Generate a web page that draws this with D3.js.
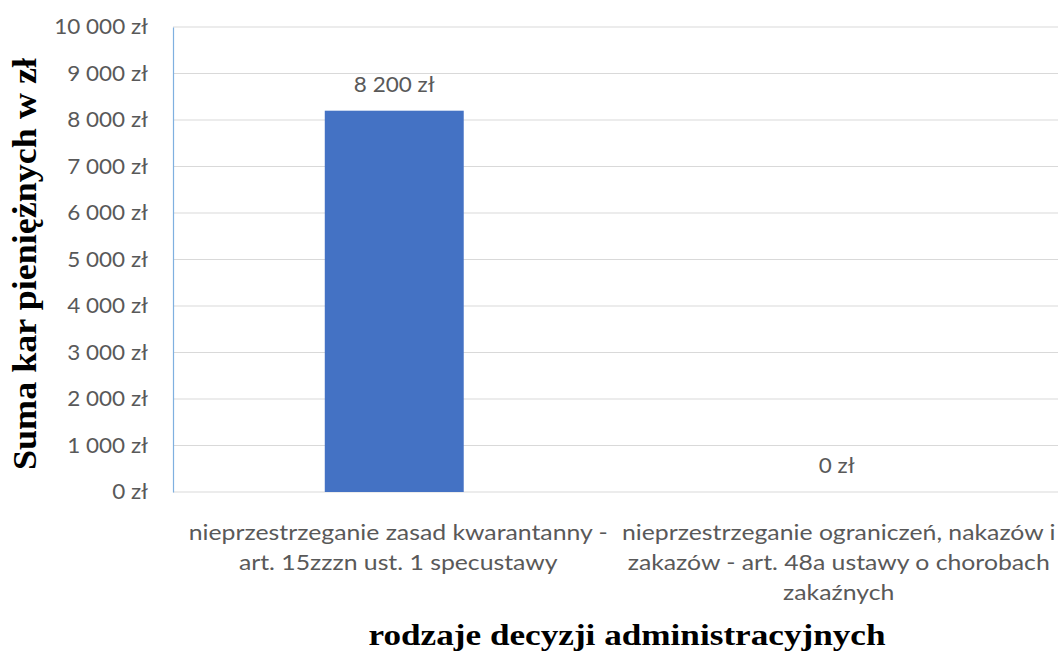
<!DOCTYPE html>
<html>
<head>
<meta charset="utf-8">
<script src="https://cdn.jsdelivr.net/npm/d3@7"></script>
<style>
  body { margin: 0; background: #fff; }
  svg { display: block; }
</style>
</head>
<body>
<div id="chart"></div>
<script>
// data
const categories = [
  ["nieprzestrzeganie zasad kwarantanny -", "art. 15zzzn ust. 1 specustawy"],
  ["nieprzestrzeganie ograniczeń, nakazów i", "zakazów - art. 48a ustawy o chorobach", "zakaźnych"]
];
const values = [8200, 0];
const yTicks = [0, 1000, 2000, 3000, 4000, 5000, 6000, 7000, 8000, 9000, 10000];
const yTitle = "Suma kar pieniężnych w zł";
const xTitle = "rodzaje decyzji administracyjnych";

const W = 1058, H = 651;
const margin = {top: 27, right: 0, bottom: 159, left: 173};
const width = W - margin.left - margin.right,
      height = H - margin.top - margin.bottom;

const fmt = v => d3.format(",")(v).replace(/,/g, " ") + " zł";
const labelFont = "Lato, 'Open Sans', sans-serif";
const titleFont = "'Liberation Serif', 'Times New Roman', serif";
const textColor = "#595959";

// widen text a little, the reference font runs wider than Lato
function stretch(sel, k) {
  sel.each(function() {
    const w = this.getComputedTextLength();
    d3.select(this).attr("textLength", w * k).attr("lengthAdjust", "spacingAndGlyphs");
  });
}

const svg = d3.select("#chart").append("svg")
  .attr("width", W).attr("height", H);

const g = svg.append("g")
  .attr("transform", "translate(" + margin.left + "," + margin.top + ")");

const x = d3.scaleBand()
  .domain(d3.range(categories.length))
  .range([0, width])
  .paddingInner(0.686)
  .paddingOuter(0.343);

const y = d3.scaleLinear()
  .domain([0, 10000])
  .range([height, 0]);

// gridlines
g.append("g")
  .selectAll("line")
  .data(yTicks)
  .enter().append("line")
    .attr("x1", 0).attr("x2", width)
    .attr("y1", d => y(d)).attr("y2", d => y(d))
    .attr("stroke", "#d9d9d9")
    .attr("stroke-width", 1);

// y axis
const yAxis = g.append("g")
  .call(d3.axisLeft(y).tickValues(yTicks).tickFormat(fmt).tickSize(0).tickPadding(25));
yAxis.select(".domain").attr("stroke", "#7fb0e0").attr("stroke-width", 1.2);
yAxis.selectAll("text")
  .attr("fill", textColor)
  .style("font-family", labelFont)
  .style("font-size", "21px")
  .call(stretch, 1.07);

// bars
g.selectAll("rect.bar")
  .data(values)
  .enter().append("rect")
    .attr("class", "bar")
    .attr("x", (d, i) => x(i))
    .attr("width", x.bandwidth())
    .attr("y", d => y(d))
    .attr("height", d => height - y(d))
    .attr("fill", "#4472c4");

// data labels
g.selectAll("text.val")
  .data(values)
  .enter().append("text")
    .attr("class", "val")
    .attr("x", (d, i) => x(i) + x.bandwidth() / 2)
    .attr("y", d => y(d) - 19)
    .attr("text-anchor", "middle")
    .attr("fill", textColor)
    .style("font-family", labelFont)
    .style("font-size", "21px")
    .text(d => fmt(d))
    .call(stretch, 1.07);

// category labels
const cat = g.selectAll("text.cat")
  .data(categories)
  .enter().append("text")
    .attr("class", "cat")
    .attr("text-anchor", "middle")
    .attr("fill", textColor)
    .style("font-family", labelFont)
    .style("font-size", "21px");
cat.selectAll("tspan")
  .data((d, i) => d.map(line => ({line, i})))
  .enter().append("tspan")
    .attr("x", d => x(d.i) + x.bandwidth() / 2 + (d.i === 0 ? 4 : 2))
    .attr("y", (d, j) => height + 48 + j * 30)
    .text(d => d.line)
    .call(stretch, 1.18);

// axis titles
svg.append("text")
  .attr("transform", "translate(36," + 264 + ") rotate(-90)")
  .attr("text-anchor", "middle")
  .style("font-family", titleFont)
  .style("font-weight", "bold")
  .style("font-size", "34px")
  .attr("fill", "#000")
  .attr("textLength", 412)
  .attr("lengthAdjust", "spacingAndGlyphs")
  .text(yTitle);

svg.append("text")
  .attr("x", 627)
  .attr("y", 645)
  .attr("text-anchor", "middle")
  .style("font-family", titleFont)
  .style("font-weight", "bold")
  .style("font-size", "29px")
  .attr("fill", "#000")
  .attr("textLength", 517)
  .attr("lengthAdjust", "spacingAndGlyphs")
  .text(xTitle);
</script>
</body>
</html>
